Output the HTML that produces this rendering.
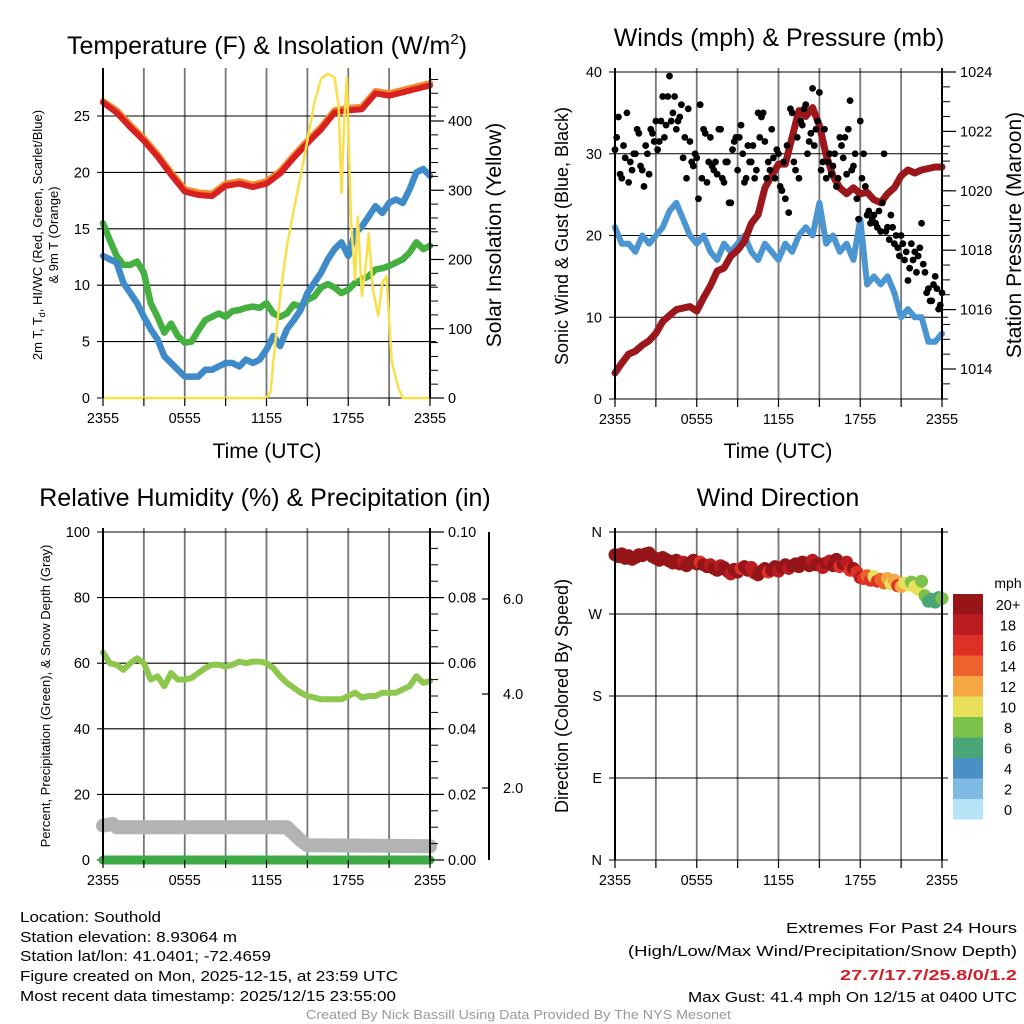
<!DOCTYPE html>
<html><head><meta charset="utf-8"><style>
html,body{margin:0;padding:0;background:#fff}
svg{display:block;font-family:"Liberation Sans",sans-serif}
</style></head><body>
<svg id="fig" width="1024" height="1024" viewBox="0 0 1024 1024">
<rect width="1024" height="1024" fill="#fff"/>
<g id="grid"></g>
<g id="marks"></g>
<g id="axes"></g>
<g font-size="25" text-anchor="middle" fill="#000">
<text x="267" y="54">Temperature (F) &amp; Insolation (W/m<tspan font-size="15" dy="-10">2</tspan><tspan dy="10">)</tspan></text>
<text x="779" y="46">Winds (mph) &amp; Pressure (mb)</text>
<text x="265" y="506">Relative Humidity (%) &amp; Precipitation (in)</text>
<text x="778" y="506">Wind Direction</text>
</g>
<g font-size="21" text-anchor="middle">
<text x="267" y="458">Time (UTC)</text>
<text x="778" y="458">Time (UTC)</text>
<text transform="translate(501,235) rotate(-90)">Solar Insolation (Yellow)</text>
<text transform="translate(1021,235) rotate(-90)">Station Pressure (Maroon)</text>
<text transform="translate(568,236) rotate(-90)" font-size="18">Sonic Wind &amp; Gust (Blue, Black)</text>
<text transform="translate(568,696) rotate(-90)" font-size="18">Direction (Colored By Speed)</text>
<text transform="translate(42,235) rotate(-90)" font-size="13">2m T, T<tspan font-size="9" dy="3">d</tspan><tspan dy="-3">, HI/WC (Red, Green, Scarlet/Blue)</tspan></text>
<text transform="translate(58,235) rotate(-90)" font-size="13">&amp; 9m T (Orange)</text>
<text transform="translate(50,696) rotate(-90)" font-size="13">Percent, Precipitation (Green), &amp; Snow Depth (Gray)</text>
</g>
<text x="1008" y="588" font-size="14" text-anchor="middle">mph</text>
<g id="cbar"></g>
<g font-size="15">
<text x="20" y="922" textLength="141" lengthAdjust="spacingAndGlyphs">Location: Southold</text>
<text x="20" y="942" textLength="217" lengthAdjust="spacingAndGlyphs">Station elevation: 8.93064 m</text>
<text x="20" y="961" textLength="251" lengthAdjust="spacingAndGlyphs">Station lat/lon: 41.0401; -72.4659</text>
<text x="20" y="981" textLength="378" lengthAdjust="spacingAndGlyphs">Figure created on Mon, 2025-12-15, at 23:59 UTC</text>
<text x="20" y="1001" textLength="376" lengthAdjust="spacingAndGlyphs">Most recent data timestamp: 2025/12/15 23:55:00</text>
<text x="786" y="933" textLength="231" lengthAdjust="spacingAndGlyphs">Extremes For Past 24 Hours</text>
<text x="628" y="956" textLength="389" lengthAdjust="spacingAndGlyphs">(High/Low/Max Wind/Precipitation/Snow Depth)</text>
<text x="840" y="980" textLength="177" lengthAdjust="spacingAndGlyphs" font-weight="bold" fill="#d32028">27.7/17.7/25.8/0/1.2</text>
<text x="688" y="1002" textLength="329" lengthAdjust="spacingAndGlyphs">Max Gust: 41.4 mph On 12/15 at 0400 UTC</text>
<text x="306" y="1019" textLength="425" lengthAdjust="spacingAndGlyphs" font-size="12.5" fill="#999">Created By Nick Bassill Using Data Provided By The NYS Mesonet</text>
</g>
</svg>
<script>
// ---- data ----
const hourTimes=[0,1,2,3,4,5,6,7,8,9,10,11,12,13,14,15,16,17,18,19,20,21,22,23,24];
const tempF=[26.2,25.3,24,22.8,21.4,19.8,18.3,18,17.9,18.8,19,18.7,19,19.9,21.3,22.6,23.8,25.3,25.5,25.6,27,26.8,27.1,27.4,27.7];
const temp9mF=[26.3,25.5,24.2,23,21.6,20,18.5,18.2,18.1,19,19.2,18.9,19.2,20.1,21.5,22.8,24,25.5,25.7,25.8,27.2,27,27.3,27.6,27.9];
const halfTimes=[0,0.5,1,1.5,2,2.5,3,3.5,4,4.5,5,5.5,6,6.5,7,7.5,8,8.5,9,9.5,10,10.5,11,11.5,12,12.5,13,13.5,14,14.5,15,15.5,16,16.5,17,17.5,18,18.5,19,19.5,20,20.5,21,21.5,22,22.5,23,23.5,24];
const dewF=[15.5,14,12.6,11.8,11.8,12.1,11.1,8.4,7.2,5.8,6.6,5.5,4.9,5,6,6.9,7.2,7.5,7.2,7.7,7.8,8,8.1,8,8.4,7.5,7.2,7.5,8.3,8.1,8.7,9,9.8,10.1,9.8,9.3,9.6,10.2,10.5,10.8,11.4,11.5,11.7,12,12.3,12.9,13.8,13.2,13.5];
const windChillF=[12.6,12.3,12,10.2,9.3,8.4,7.2,6.1,5.2,3.7,3.1,2.5,1.9,1.9,1.9,2.5,2.5,2.8,3.1,3.1,2.8,3.4,3.1,3.4,4.3,5.5,4.6,6.1,6.9,7.8,9.3,10.2,11.1,12.3,13.2,13.8,12.6,14.6,15.2,16.1,17,16.4,17.3,17.6,17.3,18.5,20,20.3,19.7];
const solarTimes=[0,12,12.3,12.5,13,13.5,14,14.5,15,15.5,16,16.5,17,17.3,17.5,17.7,17.9,18.2,18.5,18.7,19,19.3,19.5,19.8,20.2,20.5,20.8,21.2,21.7,22,24];
const solarW=[0,0,9,52,147,219,272,320,372,425,461,468,463,420,296,400,463,257,171,262,147,195,238,157,119,166,176,52,13,0,0];
const sustainedMph=[21,19,19,18,20,19,20,21,23,24,22,20,19,20,18,17,19,18,19,20,18,17,19,18,17,19,18,20,21,20,24,19,20,18,19,17,22,14,15,14,15,13,10,11,10,10,7,7,8];
const pressureMb=[1013.87,1014.2,1014.5,1014.6,1014.8,1014.95,1015.2,1015.6,1015.8,1016,1016.05,1016.1,1015.95,1016.4,1016.8,1017.3,1017.4,1017.8,1018,1018.3,1018.9,1019.2,1020.1,1020.5,1020.9,1020.9,1021.8,1022.7,1022.5,1022.8,1022.2,1021.2,1020.5,1020.1,1019.9,1020.1,1019.9,1019.95,1019.7,1019.6,1019.9,1020.1,1020.5,1020.7,1020.6,1020.7,1020.75,1020.8,1020.8];
const gustMph=[30.5,34.5,27,29.5,26.5,28,30,32.5,28,31,27.5,32.5,34,31.5,37,33.5,39.5,35,33,34.5,29.5,27,31.5,28.5,29.5,36,33,26.5,32,28,27.5,33,26.5,29,24,31.5,28,33.5,26.5,31,29,27,35,34.5,31.5,29,33,27,30,25.5,24.5,22.8,35,28,27,33.5,36,31.5,38,33,37.5,29,27,30,28.5,26,32,29.5,27.5,36.5,28.5,24.5,34,30,22.5,21.5,22.5,21,20.5,30,21,22.5,19,18.5,20,17,14.5,19,18,17.5,21.5,15.5,13.5,12,15,11,13];
const gustMph2=[32,27.5,31,35,29,30,33,28.5,26,30,33,31.5,30.5,34,32,37,34,37,34,36,32,35.5,29,30,24.5,27,32.5,29,28.5,29,33,27,29,24,30.5,32,32,30,27,29,31,28,32,35,27,28,29.5,30.5,26,29,31,35.5,29,32,34,35.5,30,32.5,31,34,28,33,29,27.5,30,27,31,32,33,28,30,22,27,26,23,22,21.5,23,24,20.5,19.5,21,20,17.5,19,18,16,17,15.5,18.5,16.5,13,12,14,13.5,11.5];
const rhPct=[63.3,60,59.5,58,60,61.5,60,55,56,53,57,55,55,55.5,57,58.5,59.5,59.5,59,59.5,60.5,60,60.5,60.5,60,58.5,56,54,52.5,51,50,49.5,49,49,49,49,50,51,49.5,50,50,51,51,51,52,53,56,54,54.5];
const snowTimes=[0,0.7,1,13.5,14,14.5,15,24];
const snowDepth=[10.5,11,10,10,8,6,4.5,4.2];
const precipTimes=[0,24];
const precipIn=[0,0];
const dirDeg=[335,333,336,331,334,330,332,335,334,336,337,333,331,329,332,330,328,326,329,325,327,323,326,329,325,327,324,322,324,320,318,323,321,317,314,319,316,320,322,318,321,315,313,317,320,316,318,322,317,321,324,320,323,325,322,327,326,323,329,324,325,321,326,328,323,330,322,325,327,318,320,316,310,309,312,307,311,306,308,304,309,303,307,301,300,304,302,305,300,297,306,290,284,286,283,288,287];
const dirSpeed=[22,21,20,22,23,21,20,22,21,22,23,21,22,20,21,23,22,24,21,22,19,21,20,22,21,17,20,21,19,22,20,18,21,22,19,20,21,16,20,22,19,18,21,20,22,17,21,20,19,22,21,18,20,22,21,20,21,22,19,20,21,19,22,18,20,21,17,22,19,16,20,17,18,16,15,17,11,16,15,14,13,10,12,17,13,10,11,9,10,11,8,8,6,6,7,7,8];
const cbarLabels=["20+","18","16","14","12","10","8","6","4","2","0"];
const cbarColors=["#961518","#bb1c22","#dd3128","#ee622d","#f5a843","#e6e05a","#7cc14a","#4aa676","#4a8fc6","#7fbbe3","#b7e3f7"];
const timeTickLabels=["2355","0555","1155","1755","2355"];

// ---- helpers ----
const NS="http://www.w3.org/2000/svg";
const G=document.getElementById('grid'),M=document.getElementById('marks'),A=document.getElementById('axes'),CB=document.getElementById('cbar');
function mk(parent,tag,attrs){const e=document.createElementNS(NS,tag);for(const k in attrs)e.setAttribute(k,attrs[k]);parent.appendChild(e);return e;}
function xT(x0,t){return x0+t/24*327;}
const yTemp=v=>398-v*11.28, ySolar=v=>398-v*0.6925;
const yWind=v=>399-v*8.175, yPres=p=>72+(1024-p)*29.7;
const yRH=v=>860-v*3.28, yDir=d=>860-d/360*328;
function speedColor(s){const i=Math.min(10,Math.floor(s/2));return cbarColors[10-i];}
function path(parent,times,vals,x0,yf,color,w,name){
  let d='';times.forEach((t,i)=>{d+=(i?'L':'M')+xT(x0,t).toFixed(1)+','+yf(vals[i]).toFixed(1);});
  const p=mk(parent,'path',{d:d,fill:'none',stroke:color,'stroke-width':w,'stroke-linejoin':'round','stroke-linecap':'round'});
  
  
  return p;
}
function panel(x0,yTop,yBot,hVals,yf,leftLabels,tag){
  for(let k=0;k<=8;k++){const x=xT(x0,k*3);
    const l=mk(G,'line',{x1:x,x2:x,y1:yTop,y2:yBot,stroke:'#777','stroke-width':1.8});
    
    
    const tk=mk(A,'line',{x1:x,x2:x,y1:yBot,y2:yBot+8,stroke:'#000','stroke-width':1.2});
    
    
  }
  for(let k=0;k<5;k++){const tx=mk(A,'text',{x:xT(x0,k*6),y:yBot+25,'font-size':14.5,'text-anchor':'middle'});tx.textContent=timeTickLabels[k];
    
    }
  hVals.forEach((v,i)=>{const y=yf(v);
    const l=mk(G,'line',{x1:x0-6,x2:x0+333,y1:y,y2:y,stroke:'#000','stroke-width':1.1});
    
    
    const tx=mk(A,'text',{x:x0-13,y:y+5,'font-size':14.5,'text-anchor':'end'});tx.textContent=leftLabels[i];
    
    });
  const ax=mk(A,'line',{x1:x0,x2:x0,y1:yTop,y2:yBot,stroke:'#000','stroke-width':2});
  
  
  const ax2=mk(A,'line',{x1:x0+327,x2:x0+327,y1:yTop,y2:yBot,stroke:'#000','stroke-width':2});
  
  
}
function rightTicks(x,vals,yf,labels,minors,tag){
  minors.forEach(v=>{const y=yf(v);const l=mk(A,'line',{x1:x,x2:x+8,y1:y,y2:y,stroke:'#000','stroke-width':1});
    
    });
  vals.forEach((v,i)=>{const y=yf(v);const l=mk(A,'line',{x1:x,x2:x+14,y1:y,y2:y,stroke:'#000','stroke-width':1.2});
    
    
    const tx=mk(A,'text',{x:x+18,y:y+5,'font-size':14.5});tx.textContent=labels[i];
    
    });
}

// ---- panel 1: temperature ----
panel(103,68,398,[0,5,10,15,20,25],yTemp,["0","5","10","15","20","25"],'temp');
rightTicks(430,[0,100,200,300,400],ySolar,["0","100","200","300","400"],[20,40,60,80,120,140,160,180,220,240,260,280,320,340,360,380,420,440,460],'solar');
path(M,hourTimes,temp9mF,103,yTemp,'#f08a2c',6.5,'temp-9m-line');
path(M,hourTimes,tempF,103,yTemp,'#d7201f',6,'temp-2m-line');
path(M,halfTimes,dewF,103,yTemp,'#43b040',6.5,'dewpoint-line');
path(M,halfTimes,windChillF,103,yTemp,'#3f8ac8',6.5,'windchill-line');
path(M,solarTimes,solarW,103,ySolar,'#f9e04b',2.5,'solar-line');

// ---- panel 2: winds ----
panel(615,68,399,[0,10,20,30,40],yWind,["0","10","20","30","40"],'wind');
rightTicks(942,[1014,1016,1018,1020,1022,1024],yPres,["1014","1016","1018","1020","1022","1024"],[1013.5,1014.5,1015,1015.5,1016.5,1017,1017.5,1018.5,1019,1019.5,1020.5,1021,1021.5,1022.5,1023,1023.5],'pressure');
path(M,halfTimes,sustainedMph,615,yWind,'#4b96d2',6,'sustained-wind-line');
path(M,halfTimes,pressureMb,615,yPres,'#9b171c',7,'pressure-line');
gustMph.forEach((g,i)=>{const c=mk(M,'circle',{cx:xT(615,i*0.25),cy:yWind(g),r:3.4,fill:'#000'});
  
  });
gustMph2.forEach((g,i)=>{const c=mk(M,'circle',{cx:xT(615,0.125+i*0.25),cy:yWind(g),r:3.4,fill:'#000'});
  
  });

// ---- panel 3: humidity ----
panel(103,528,860,[0,20,40,60,80,100],yRH,["0","20","40","60","80","100"],'rh');
rightTicks(430,[0,20,40,60,80,100],yRH,["0.00","0.02","0.04","0.06","0.08","0.10"],[5,10,15,25,30,35,45,50,55,65,70,75,85,90,95],'precip');
path(M,snowTimes,snowDepth,103,yRH,'#b3b3b3',14,'snow-depth-line');
path(M,precipTimes,precipIn,103,yRH,'#3daa45',9,'precip-line');
path(M,halfTimes,rhPct,103,yRH,'#8dc74e',6,'rh-line');
{const l=mk(A,'line',{x1:489,x2:489,y1:532,y2:860,stroke:'#000','stroke-width':2});
 
 
 const sd=[6,4,2],sdy=[599,694,788];
 sd.forEach((v,i)=>{const t=mk(A,'line',{x1:482,x2:489,y1:sdy[i],y2:sdy[i],stroke:'#000','stroke-width':1.2});
  
  
  const tx=mk(A,'text',{x:503,y:sdy[i]+5,'font-size':14.5});tx.textContent=v.toFixed(1);
  
  });}

// ---- panel 4: wind direction ----
dirDeg.forEach((d,i)=>{const c=mk(M,'circle',{cx:xT(615,i*0.25),cy:yDir(d),r:6.5,fill:speedColor(dirSpeed[i])});
  
  });
panel(615,528,860,[0,90,180,270,360],yDir,["N","E","S","W","N"],'dir');
cbarLabels.forEach((lab,i)=>{const y=594+i*20.5;
  const r=mk(CB,'rect',{x:953,y:y,width:30,height:20.6,fill:cbarColors[i]});
  
  
  const tx=mk(CB,'text',{x:1008,y:y+16,'font-size':14.5,'text-anchor':'middle'});tx.textContent=lab;
  
  });
</script>
</body></html>
